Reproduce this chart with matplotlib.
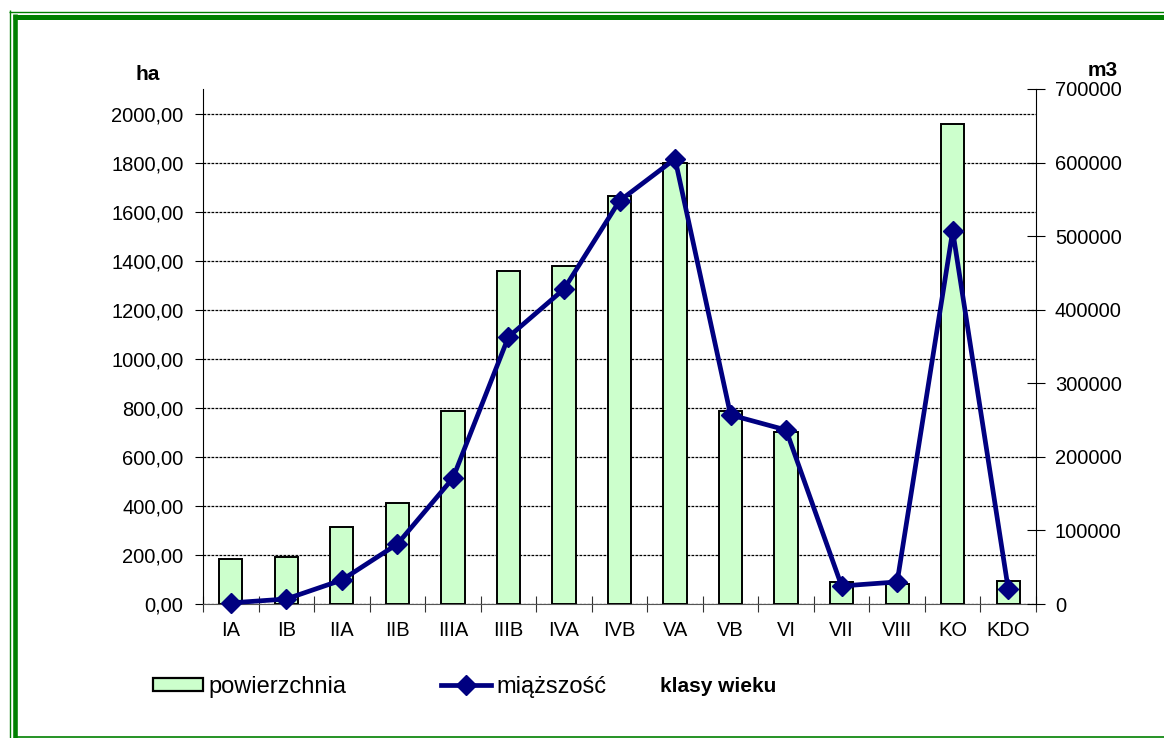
import matplotlib
matplotlib.use('Agg')
import matplotlib.pyplot as plt
import matplotlib.patches as patches
from matplotlib.lines import Line2D
from matplotlib.ticker import FuncFormatter, MultipleLocator, FixedLocator
import numpy as np

# age classes
klasy = ['IA', 'IB', 'IIA', 'IIB', 'IIIA', 'IIIB', 'IVA', 'IVB', 'VA',
         'VB', 'VI', 'VII', 'VIII', 'KO', 'KDO']
# area, ha
powierzchnia = [183, 190, 313, 412, 786, 1358, 1380, 1663, 1797,
                786, 700, 88, 80, 1958, 92]
# volume, m3
miazszosc = [1500, 6800, 32600, 81500, 171000, 363000, 428000, 548000, 605000,
             257000, 236500, 24500, 30000, 507000, 20400]

plt.rcParams['font.family'] = ['Liberation Sans', 'DejaVu Sans']
FS = 14.5
W, H = 1164, 738

fig = plt.figure(figsize=(W / 100, H / 100), dpi=100)
ax = fig.add_axes([203 / W, 1 - 604 / H, (1036 - 203) / W, (604 - 89) / H])
ax2 = ax.twinx()

x = np.arange(len(klasy))
ax.bar(x, powierzchnia, width=0.42, color='#CCFFCC', edgecolor='black',
       linewidth=1.4, zorder=3)
ax2.plot(x, miazszosc, color='#000080', linewidth=3.4, marker='D',
         markersize=10.5, zorder=4, clip_on=False)

# left axis
ax.set_xlim(-0.5, len(klasy) - 0.5)
ax.set_ylim(0, 2100)
ax.yaxis.set_major_locator(FixedLocator(np.arange(0, 2001, 200)))
ax.yaxis.set_major_formatter(FuncFormatter(lambda v, p: f'{v:.2f}'.replace('.', ',')))
ax.grid(axis='y', color='black', linestyle=(0, (2.2, 1.0)), linewidth=0.9, zorder=1)
ax.set_axisbelow(True)
ax.tick_params(axis='y', direction='out', length=6, width=0.8, pad=8, labelsize=FS)

ax.set_xticks(x)
ax.set_xticklabels(klasy)
ax.xaxis.set_minor_locator(MultipleLocator(1, offset=0.5))
ax.tick_params(axis='x', which='major', length=0, pad=12, labelsize=FS)
ax.tick_params(axis='x', which='minor', direction='inout', length=12, width=0.8,
               color='#333333')

# right axis
ax2.set_ylim(0, 700000)
ax2.yaxis.set_major_locator(MultipleLocator(100000))
ax2.yaxis.set_major_formatter(FuncFormatter(lambda v, p: f'{int(v)}'))
ax2.tick_params(axis='y', direction='inout', length=13, width=0.8, pad=7, labelsize=FS)

for a in (ax, ax2):
    a.spines['top'].set_visible(False)
ax.spines['right'].set_visible(False)
ax.spines['bottom'].set_color('#555555')
ax.spines['left'].set_linewidth(0.8)
ax2.spines['right'].set_linewidth(0.8)
ax2.spines['left'].set_visible(False)
ax2.spines['bottom'].set_visible(False)

# axis titles
fig.text(148 / W, 1 - 75 / H, 'ha', fontsize=15, fontweight='bold', ha='center', va='center')
fig.text(1103 / W, 1 - 70 / H, 'm3', fontsize=15, fontweight='bold', ha='center', va='center')
fig.text(660 / W, 1 - 687 / H, 'klasy wieku', fontsize=15, fontweight='bold', ha='left', va='center')

# legend
handles = [patches.Patch(facecolor='#CCFFCC', edgecolor='black', linewidth=1.6),
           Line2D([], [], color='#000080', linewidth=3.4, marker='D', markersize=10.5)]
fig.legend(handles, ['powierzchnia', 'miąższość'], loc='center left',
           bbox_to_anchor=(153 / W, 1 - 687 / H), ncol=2, frameon=False,
           fontsize=17, borderpad=0, borderaxespad=0, handlelength=2.1,
           handleheight=0.5, handletextpad=0.25, columnspacing=4.0)

# green frame
green = '#008000'
def frame_line(xs, ys, lw):
    fig.add_artist(Line2D([v / W for v in xs], [1 - v / H for v in ys],
                          color=green, linewidth=lw, solid_capstyle='butt'))

frame_line([9.5, 9.5], [10, H], 1.0)
frame_line([9, W], [12, 12], 1.0)
frame_line([15, 15], [14, H], 3.3)
frame_line([13, W], [16.5, 16.5], 3.6)
frame_line([15, W], [737, 737], 1.2)

plt.savefig('out.png', dpi=100)
